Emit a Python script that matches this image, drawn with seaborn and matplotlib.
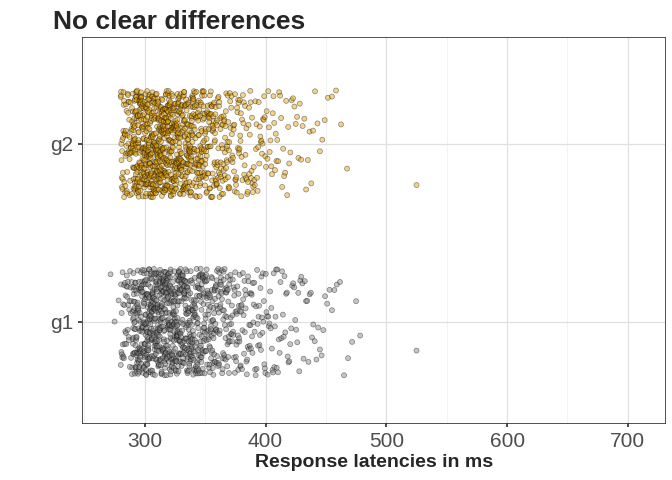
import numpy as np
import pandas as pd
import matplotlib
matplotlib.use("Agg")
import matplotlib.pyplot as plt
import seaborn as sns

# latency histograms: bin start (ms) and point counts per 10 ms bin
bin_starts = [270, 280, 290, 300, 310, 320, 330, 340, 350, 360, 370, 380, 390,
              400, 410, 420, 430, 440, 450, 460, 470, 480, 490, 500, 510, 520]
g1_counts = [3, 40, 110, 140, 140, 130, 110, 90, 70, 55, 40, 30, 25,
             20, 15, 12, 10, 7, 5, 3, 3, 0, 0, 0, 0, 1]
g2_counts = [0, 60, 130, 150, 150, 130, 110, 85, 65, 50, 35, 28, 22,
             16, 12, 9, 7, 5, 3, 2, 0, 0, 0, 0, 0, 1]
groups = ["g1", "g2"]
colours = {"g1": "#808080", "g2": "#E69F00"}


def expand(counts):
    vals = []
    for start, n in zip(bin_starts, counts):
        if n:
            vals.extend(np.linspace(start, start + 10, n, endpoint=False) + 5 / n)
    return vals


rows = []
for g, c in zip(groups, [g1_counts, g2_counts]):
    for v in expand(c):
        rows.append((g, v))
df = pd.DataFrame(rows, columns=["group", "latency"])

sns.set_theme(style="whitegrid")
plt.rcParams["font.family"] = ["Liberation Sans", "DejaVu Sans"]

fig, ax = plt.subplots(figsize=(6.72, 4.8), dpi=100)
sns.stripplot(data=df, x="latency", y="group", hue="group", order=["g2", "g1"],
              palette=colours, jitter=0.3, size=3.6, alpha=0.45, linewidth=0.5,
              edgecolor="black", legend=False, ax=ax)

ax.set_xlim(248, 731)
ax.set_ylim(1.57, -0.6)
ax.set_xticks([300, 400, 500, 600, 700])
ax.set_xticks([250, 350, 450, 550, 650], minor=True)
ax.grid(True, which="major", color="#e0e0e0", linewidth=0.9)
ax.grid(True, which="minor", axis="x", color="#eeeeee", linewidth=0.5)
ax.set_axisbelow(True)
for s in ax.spines.values():
    s.set_color("#333333")
    s.set_linewidth(0.6)
ax.tick_params(axis="both", labelsize=15, labelcolor="#4d4d4d", length=3,
               color="#333333", which="major", left=True, bottom=True)
ax.tick_params(which="minor", length=0)
ax.set_xlabel("Response latencies in ms", fontsize=14, fontweight="bold", labelpad=2)
ax.set_ylabel("")
ax.set_title("No clear differences", fontsize=19, fontweight="bold", loc="left",
             x=-0.05, pad=6)

fig.subplots_adjust(left=0.122, right=0.99, top=0.923, bottom=0.118)
fig.savefig("out.png")
